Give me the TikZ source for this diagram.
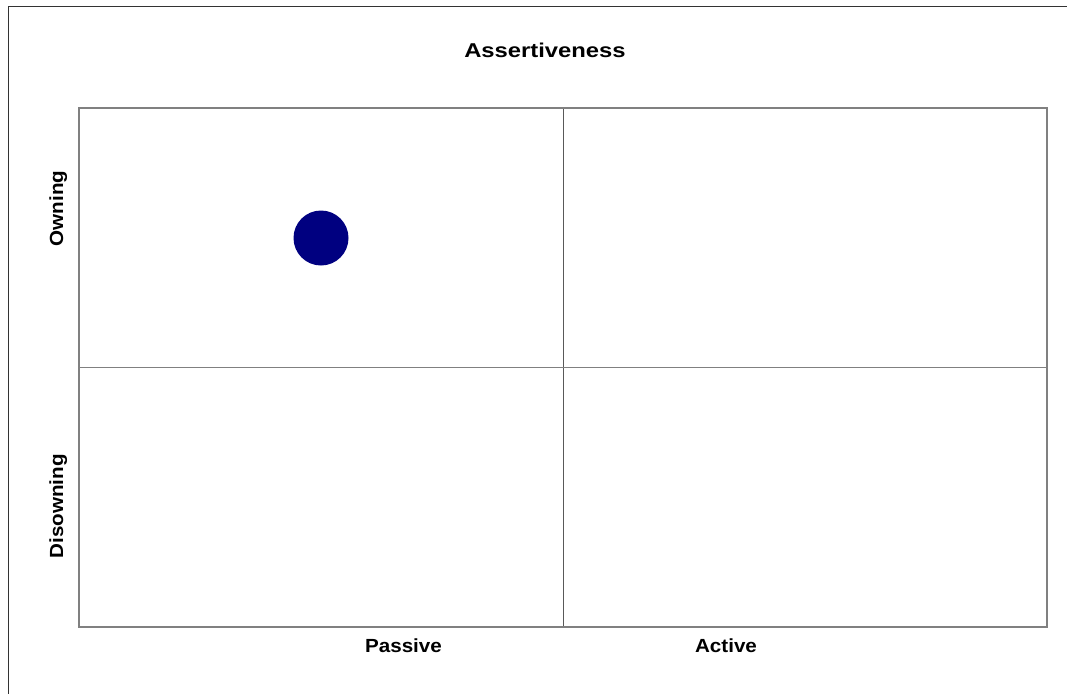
\documentclass[tikz,border=0pt]{standalone}
\usepackage{fontspec}
\setmainfont{Liberation Sans}
\tikzset{
  lbl/.style={font=\fontsize{19}{22}\selectfont\bfseries, inner sep=0pt},
  ttl/.style={font=\fontsize{20}{24}\selectfont\bfseries, inner sep=0pt},
  frame/.style={draw=black!50, line width=2pt},
  outer/.style={draw=black!80, line width=1.5pt},
}
\newcommand{\wide}[1]{\scalebox{1.085}[1]{#1}}
\begin{document}
\begin{tikzpicture}[x=1pt,y=-1pt]
\useasboundingbox (0,0) rectangle (1067,693);
\begin{scope}
\clip (0,0) rectangle (1067,693);
\draw[outer] (8.5,6.5) rectangle (1080,710);
\end{scope}
\coordinate (tl) at (79,108);
\coordinate (br) at (1046.5,626.5);
\coordinate (vt) at (563,108);
\coordinate (vb) at (563,626.5);
\coordinate (hl) at (79,367.5);
\coordinate (hr) at (1046.5,367.5);
\draw[draw=black!65, line width=1pt] (vt) -- (vb);
\draw[draw=black!50, line width=1.5pt] (hl) -- (hr);
\draw[frame] (tl) rectangle (br);
\node[circle, fill={rgb,255:red,0;green,0;blue,128}, minimum size=55pt, inner sep=0pt] (dot) at (321,238) {};
\node[ttl] (title) at (545,50.5) {\scalebox{1.19}[1]{Assertiveness}};
\node[lbl] (passive) at (403.5,646) {\wide{Passive}};
\node[lbl] (active) at (726,646) {\wide{Active}};
\node[lbl, rotate=90, anchor=base] (owning) at (63,208.5) {\wide{Owning}};
\node[lbl, rotate=90, anchor=base] (disowning) at (63,506.5) {\wide{Disowning}};
\end{tikzpicture}
\end{document}
